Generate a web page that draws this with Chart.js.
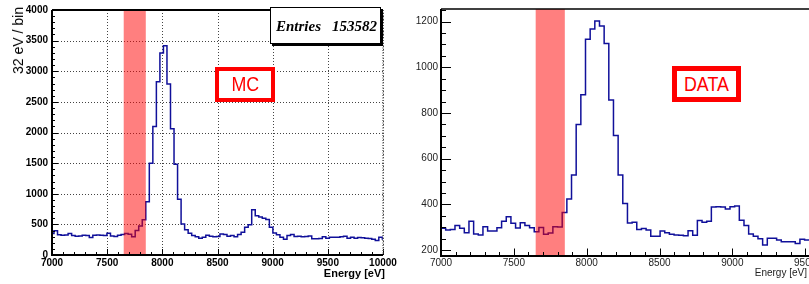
<!DOCTYPE html>
<html>
<head>
<meta charset="utf-8">
<script src="https://cdn.jsdelivr.net/npm/chart.js@4.4.1/dist/chart.umd.min.js"></script>
<style>
  html, body { margin: 0; padding: 0; background: #fff; overflow: hidden; }
  body { width: 809px; height: 284px; position: relative; font-family: 'Liberation Sans', Arial, sans-serif; }
  canvas { position: absolute; top: 0; }
  #mcChart { left: 0; }
  #dataChart { left: 400px; }
  .ytitle { position: absolute; left: 11px; top: 7px; writing-mode: vertical-rl; transform: rotate(180deg); font-size: 14px; line-height: 14px; white-space: nowrap; }
  .xtitle { position: absolute; white-space: nowrap; }
  .stats { position: absolute; left: 270px; top: 7px; width: 109px; height: 35px; border: 1px solid #000; box-shadow: 2px 2px 0 #000; background: #fff;
           font: italic bold 15px 'Liberation Serif', 'Times New Roman', serif; line-height: 15px; }
  .stats span { position: absolute; top: 11px; }
  .tag { position: absolute; box-sizing: border-box; border: 4px solid #f00; background: #fff; color: #f00;
         display: flex; align-items: center; justify-content: center; font-size: 21px; }
  .tag span { display: inline-block; transform: scaleX(0.85); }
</style>
</head>
<body>
<canvas id="mcChart" width="400" height="284"></canvas>
<canvas id="dataChart" width="500" height="284"></canvas>

<div class="ytitle">32 eV / bin</div>
<div class="xtitle" style="right:424px; top:268px; font-weight:bold; font-size:11px; line-height:11px;">Energy [eV]</div>
<div class="xtitle" style="right:2px; top:268px; font-size:10px; line-height:10px; color:#222;">Energy [eV]</div>
<div class="stats"><span style="left:5px;">Entries</span><span style="right:3px;">153582</span></div>
<div class="tag" style="left:215px; top:67px; width:60px; height:35px;"><span style="position:relative; top:-1px;">MC</span></div>
<div class="tag" style="left:672px; top:66px; width:69px; height:36px; border-width:5px;"><span>DATA</span></div>

<script>
// Histogramy: 32 eV na bin
const BIN_WIDTH = 32;
const MC_FIRST_EDGE = 6986;
const DATA_FIRST_EDGE = 7000;
const BAND = [7650, 7850];

const X_TICKS = [7000, 7500, 8000, 8500, 9000, 9500, 10000];
const MC_Y_TICKS = [0, 500, 1000, 1500, 2000, 2500, 3000, 3500, 4000];
const DATA_Y_TICKS = [200, 400, 600, 800, 1000, 1200];

const MC_COUNTS = [
  350, 395, 330, 323, 328, 350, 318, 307, 312, 323,
  318, 285, 323, 328, 323, 318, 355, 312, 301, 323,
  334, 350, 340, 296, 400, 475, 575, 870, 1500, 2100,
  2830, 3300, 3415, 2790, 2060, 1480, 910, 506, 414, 354,
  317, 296, 274, 291, 323, 307, 296, 302, 344, 334,
  307, 318, 296, 334, 371, 452, 495, 738, 641, 620,
  600, 580, 452, 361, 329, 291, 258, 318, 334, 302,
  305, 300, 302, 310, 264, 264, 270, 296, 275, 291,
  291, 291, 300, 307, 275, 291, 275, 285, 280, 275,
  270, 258, 237, 291, 260
];

const DATA_COUNTS = [
  295, 288, 290, 307, 295, 276, 326, 270, 266, 302,
  283, 283, 298, 326, 346, 317, 296, 319, 308, 298,
  280, 299, 269, 275, 302, 301, 364, 423, 529, 750,
  880, 1123, 1167, 1202, 1181, 1104, 857, 701, 529, 404,
  318, 322, 290, 294, 288, 260, 260, 283, 276, 269,
  266, 265, 263, 285, 265, 329, 322, 326, 388, 390,
  388, 380, 389, 393, 331, 308, 270, 260, 250, 222,
  252, 252, 244, 236, 236, 236, 229, 247, 244
];

const LINE_BLUE = '#10109a';
const BAND_COLOR = 'rgba(255, 0, 0, 0.5)';
const FONT = "'Liberation Sans', Arial, Helvetica, sans-serif";

// Punkty schodkowe histogramu (lewa i prawa krawedz kazdego binu)
function histPoints(firstEdge, counts) {
  const pts = [];
  counts.forEach((c, i) => {
    const lo = firstEdge + i * BIN_WIDTH;
    pts.push({ x: lo, y: c }, { x: lo + BIN_WIDTH, y: c });
  });
  return pts;
}

// Ramka w stylu ROOT: siatka, pasek, kreski podzialki do wewnatrz
const rootFrame = {
  id: 'rootFrame',
  beforeDatasetsDraw(chart, args, o) {
    if (!o.grid) return;
    const { ctx, chartArea: a, scales: { x, y } } = chart;
    ctx.save();
    ctx.strokeStyle = o.gridColor;
    ctx.lineWidth = 1;
    ctx.setLineDash([1, 2]);
    ctx.beginPath();
    X_TICKS.forEach(v => {
      const px = Math.round(x.getPixelForValue(v)) + 0.5;
      ctx.moveTo(px, a.top); ctx.lineTo(px, a.bottom);
    });
    o.yTicks.forEach(v => {
      const py = Math.round(y.getPixelForValue(v)) + 0.5;
      ctx.moveTo(a.left, py); ctx.lineTo(a.right, py);
    });
    ctx.stroke();
    ctx.restore();
  },
  afterDatasetsDraw(chart, args, o) {
    const { ctx, chartArea: a, scales: { x, y } } = chart;
    ctx.save();

    const b1 = x.getPixelForValue(BAND[0]);
    const b2 = x.getPixelForValue(BAND[1]);
    ctx.fillStyle = BAND_COLOR;
    ctx.fillRect(b1, a.top, b2 - b1, a.bottom - a.top);

    ctx.strokeStyle = '#000';
    ctx.lineWidth = 1;
    ctx.beginPath();
    for (let v = Math.ceil(x.min / o.xMinor) * o.xMinor; v <= x.max; v += o.xMinor) {
      const px = Math.round(x.getPixelForValue(v)) + 0.5;
      const len = v % o.xMajor === 0 ? o.xMajorLen : o.xMinorLen;
      ctx.moveTo(px, a.bottom); ctx.lineTo(px, a.bottom - len);
    }
    for (let v = Math.ceil(y.min / o.yMinor) * o.yMinor; v <= y.max; v += o.yMinor) {
      const py = Math.round(y.getPixelForValue(v)) + 0.5;
      const len = v % o.yMajor === 0 ? o.yMajorLen : o.yMinorLen;
      ctx.moveTo(a.left, py); ctx.lineTo(a.left + len, py);
    }
    ctx.stroke();

    ctx.lineWidth = 2;
    ctx.beginPath();
    ctx.moveTo(a.left, a.top); ctx.lineTo(a.left, a.bottom); ctx.lineTo(a.right, a.bottom);
    ctx.stroke();
    ctx.lineWidth = o.topWidth;
    ctx.beginPath();
    ctx.moveTo(a.left, a.top); ctx.lineTo(a.right, a.top);
    ctx.stroke();
    if (o.rightEdge) {
      ctx.strokeStyle = '#666';
      ctx.lineWidth = 1.5;
      ctx.setLineDash([1, 1.5]);
      ctx.beginPath();
      ctx.moveTo(a.right, a.top); ctx.lineTo(a.right, a.bottom);
      ctx.stroke();
    }
    ctx.restore();
  }
};

function makeChart(id, cfg) {
  return new Chart(document.getElementById(id), {
    type: 'line',
    data: {
      datasets: [{
        data: histPoints(cfg.firstEdge, cfg.counts),
        borderColor: LINE_BLUE,
        borderWidth: 1.5,
        pointRadius: 0,
        tension: 0,
        fill: false
      }]
    },
    options: {
      responsive: false,
      animation: false,
      events: [],
      layout: { padding: { top: cfg.top, right: cfg.right, left: 0, bottom: 0 } },
      plugins: { legend: { display: false }, tooltip: { enabled: false }, rootFrame: cfg.frame },
      scales: {
        x: {
          type: 'linear', min: 7000, max: 10000,
          afterBuildTicks: s => { s.ticks = X_TICKS.map(v => ({ value: v })); },
          afterFit: s => { s.height = cfg.xHeight; },
          grid: { display: false, drawTicks: false }, border: { display: false },
          ticks: { font: cfg.tickFont, color: cfg.tickColor, padding: cfg.xPad, maxRotation: 0, autoSkip: false,
                   callback: v => String(v) }
        },
        y: {
          type: 'linear', min: cfg.yMin, max: cfg.yMax,
          afterBuildTicks: s => { s.ticks = cfg.yTicks.map(v => ({ value: v })); },
          afterFit: s => { s.width = cfg.yWidth; },
          grid: { display: false, drawTicks: false }, border: { display: false },
          ticks: { font: cfg.tickFont, color: cfg.tickColor, padding: cfg.yPad, autoSkip: false,
                   callback: v => String(v) }
        }
      }
    },
    plugins: [rootFrame]
  });
}

window.onload = () => {
  makeChart('mcChart', {
    firstEdge: MC_FIRST_EDGE, counts: MC_COUNTS,
    top: 7, right: 17, xHeight: 29, yWidth: 52,
    yMin: 0, yMax: 4000, yTicks: MC_Y_TICKS,
    tickFont: { family: FONT, size: 10, weight: 'bold' }, tickColor: '#000', xPad: 2, yPad: 4,
    frame: {
      grid: true, gridColor: '#444', yTicks: MC_Y_TICKS, rightEdge: true, topWidth: 2,
      xMajor: 500, xMinor: 100, xMajorLen: 6, xMinorLen: 3,
      yMajor: 500, yMinor: 100, yMajorLen: 6, yMinorLen: 3
    }
  });

  makeChart('dataChart', {
    firstEdge: DATA_FIRST_EDGE, counts: DATA_COUNTS,
    top: 9, right: 22, xHeight: 28, yWidth: 41,
    yMin: 174, yMax: 1255, yTicks: DATA_Y_TICKS,
    tickFont: { family: FONT, size: 10 }, tickColor: '#222', xPad: 1, yPad: 3,
    frame: {
      grid: false, rightEdge: false, topWidth: 1.5,
      xMajor: 500, xMinor: 100, xMajorLen: 7.5, xMinorLen: 4,
      yMajor: 200, yMinor: 50, yMajorLen: 10, yMinorLen: 5
    }
  });
};
</script>
</body>
</html>
